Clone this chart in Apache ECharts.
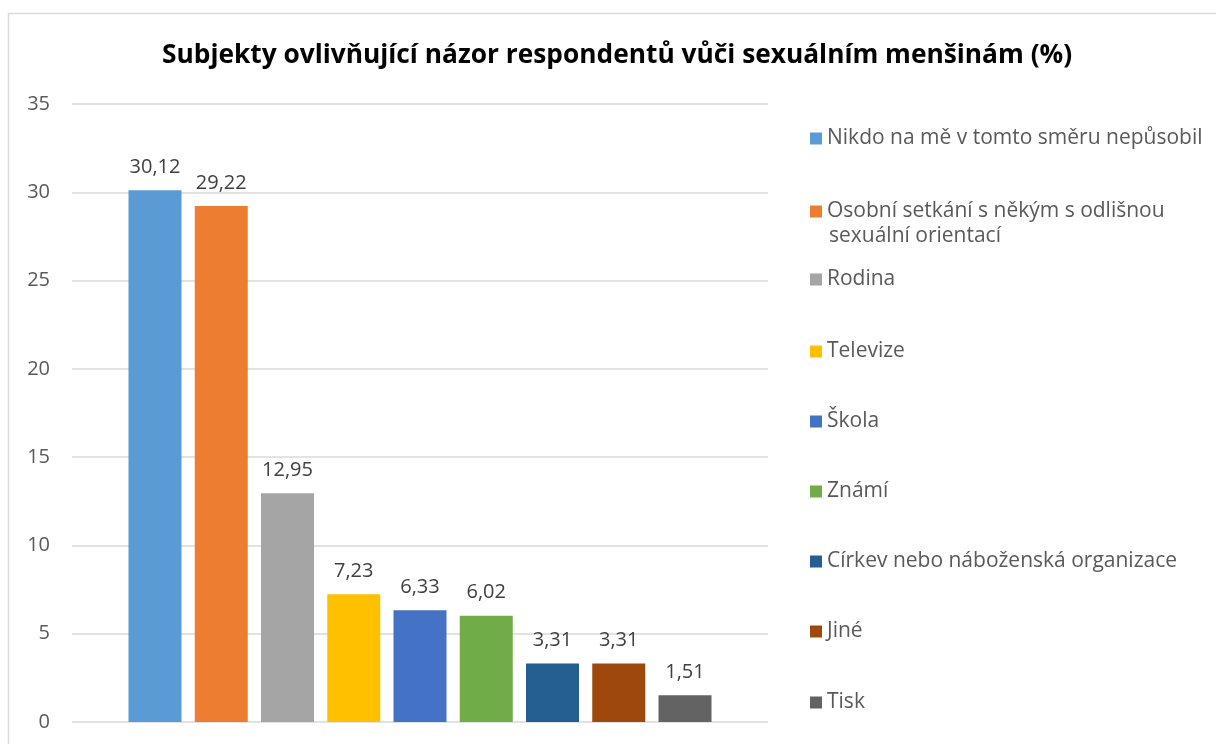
<!doctype html>
<html>
<head>
<meta charset="utf-8">
<title></title>
<script src="https://cdn.jsdelivr.net/npm/echarts@6/dist/echarts.min.js"></script>
<style>
html, body { margin: 0; padding: 0; background: #fff; }
#container { width: 1216px; height: 744px; }
</style>
</head>
<body>
<div id="container"></div>
<script type="text/javascript">
var titleText = 'Subjekty ovlivňující názor respondentů vůči sexuálním menšinám (%)';
var names = [
	'Nikdo na mě v tomto směru nepůsobil',
	'Osobní setkání s někým s odlišnou sexuální orientací',
	'Rodina',
	'Televize',
	'Škola',
	'Známí',
	'Církev nebo náboženská organizace',
	'Jiné',
	'Tisk'
];
var values = [30.12, 29.22, 12.95, 7.23, 6.33, 6.02, 3.31, 3.31, 1.51];
var colors = ['#5B9BD5', '#ED7D31', '#A5A5A5', '#FFC000', '#4472C4', '#70AD47', '#255E91', '#9E480E', '#636363'];
var legendTops = [137, 210, 278, 350, 420, 490, 560, 630, 701];

var font = '"Open Sans", "Liberation Sans", sans-serif';
var dom = document.getElementById('container');
var myChart = echarts.init(dom);

var series = [];
var legends = [];
for (var i = 0; i < names.length; i++) {
	series.push({
		name: names[i],
		type: 'bar',
		data: [values[i]],
		barWidth: 53,
		barGap: '25%',
		itemStyle: { color: colors[i] },
		label: {
			show: true,
			position: 'top',
			distance: 13,
			color: '#404040',
			fontSize: 20,
			fontFamily: font,
			formatter: function (p) { return p.value.toFixed(2).replace('.', ','); }
		}
	});
	legends.push({
		data: [names[i]],
		left: 810,
		top: legendTops[i] - 9,
		orient: 'vertical',
		icon: 'rect',
		itemWidth: 12,
		itemHeight: 12,
		itemGap: 7,
		padding: 0,
		selectedMode: false,
		formatter: i == 1 ? function () { return 'Osobní setkání s někým s odlišnou'; } : '{name}',
		textStyle: { color: '#595959', fontSize: 21, fontFamily: font }
	});
}

var option = {
	animation: false,
	backgroundColor: '#fff',
	title: {
		text: titleText,
		left: 162,
		top: 43,
		padding: 0,
		textStyle: { fontSize: 26.3, fontWeight: 'bold', color: '#000', fontFamily: font }
	},
	grid: { left: 72, right: 448, top: 104, bottom: 22, containLabel: false },
	legend: legends,
	graphic: [{
		type: 'rect',
		shape: { x: 8.5, y: 13.5, width: 1300, height: 800 },
		style: { fill: 'none', stroke: '#d9d9d9', lineWidth: 1.5 },
		silent: true
	}, {
		type: 'text',
		left: 829,
		top: 226,
		style: { text: 'sexuální orientací', fill: '#595959', fontSize: 21, fontFamily: font }
	}],
	xAxis: {
		type: 'category',
		data: [''],
		axisLine: { show: false },
		axisTick: { show: false },
		axisLabel: { show: false }
	},
	yAxis: {
		type: 'value',
		min: 0,
		max: 35,
		interval: 5,
		axisLine: { show: false },
		axisTick: { show: false },
		axisLabel: { color: '#595959', fontSize: 20, fontFamily: font, margin: 22 },
		splitLine: { lineStyle: { color: '#d9d9d9', width: 1.5 } }
	},
	series: series
};

myChart.setOption(option, true);
</script>
</body>
</html>
